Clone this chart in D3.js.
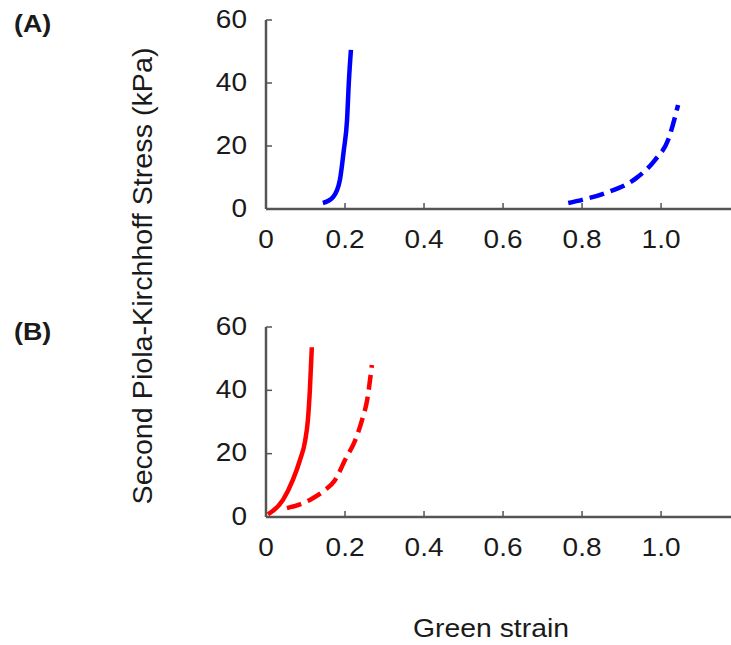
<!DOCTYPE html>
<html><head><meta charset="utf-8">
<script src="https://cdn.jsdelivr.net/npm/d3@7"></script>
<style>body{margin:0;background:#fff}svg{display:block}text{font-family:"Liberation Sans",Arial,sans-serif}</style>
</head><body><svg id="c" width="731" height="645"></svg>
<script>
// data (strain, stress kPa)
const aSolidStrain = [0.144,0.17,0.187,0.197,0.205,0.21,0.215];
const aSolidStress = [1.9,3.8,9.2,18.7,28,41,50.5];
const aDashStrain = [0.765,0.80,0.858,0.937,0.985,1.018,1.043];
const aDashStress = [1.9,2.9,5.0,9.8,15.6,22,33];
const bSolidStrain = [0.005,0.043,0.068,0.086,0.099,0.106,0.111,0.116];
const bSolidStress = [0.8,5.4,11.7,18,24,30.6,40,53.6];
const bDashStrain = [0.053,0.111,0.149,0.175,0.2,0.225,0.243,0.256,0.268];
const bDashStress = [2.8,5.4,8.5,11.7,18,24,30.6,36.9,48];
const xTicks = [0,0.2,0.4,0.6,0.8,1.0];
const xTickLabels = ["0","0.2","0.4","0.6","0.8","1.0"];
const yTicks = [0,20,40,60];

const svg = d3.select("#c");
const x = d3.scaleLinear().domain([0,1.177]).range([266,731]);
const axisColor = "#555";
const textColor = "#1a1a1a";
const SX = 1.12;

function stretchedText(g, px, py, str, opts) {
  const t = g.append("text")
    .attr("transform", `translate(${px},${py}) scale(${SX},1)`)
    .attr("font-size", opts.size || 25)
    .attr("fill", textColor)
    .attr("text-anchor", opts.anchor || "start")
    .text(str);
  if (opts.dy) t.attr("dy", opts.dy);
  if (opts.bold) t.attr("font-weight", "bold");
  return t;
}

function panel(y0, yTop, label, labelY, series) {
  const y = d3.scaleLinear().domain([0,60]).range([y0,yTop]);
  const g = svg.append("g");
  g.append("line").attr("x1",x(0)).attr("x2",731).attr("y1",y0).attr("y2",y0).attr("stroke",axisColor).attr("stroke-width",2.5);
  g.append("line").attr("x1",x(0)).attr("x2",x(0)).attr("y1",y0).attr("y2",y(60)).attr("stroke",axisColor).attr("stroke-width",2.5);
  yTicks.forEach(t=>{
    g.append("line").attr("x1",x(0)).attr("x2",x(0)+6).attr("y1",y(t)).attr("y2",y(t)).attr("stroke",axisColor).attr("stroke-width",1.5);
    stretchedText(g, 247, y(t)-1, t, {anchor:"end", dy:"0.35em"});
  });
  xTicks.forEach((t,i)=>{
    if(i>0) g.append("line").attr("x1",x(t)).attr("x2",x(t)).attr("y1",y0).attr("y2",y0-6).attr("stroke",axisColor).attr("stroke-width",1.5);
    stretchedText(g, x(t), y0+39, xTickLabels[i], {anchor:"middle"});
  });
  stretchedText(g, 14, labelY, label, {size:24, bold:true});
  const line = d3.line().x(d=>x(d[0])).y(d=>y(d[1])).curve(d3.curveMonotoneX);
  series.forEach(s=>{
    const pts = s.xs.map((v,i)=>[v,s.ys[i]]);
    g.append("path").attr("d",line(pts)).attr("fill","none").attr("stroke",s.color).attr("stroke-width",4.5)
      .attr("stroke-dasharray",s.dash?"15,7":null);
  });
}
panel(209, 20, "(A)", 32, [
  {xs:aSolidStrain, ys:aSolidStress, color:"#0000ff", dash:false},
  {xs:aDashStrain, ys:aDashStress, color:"#0000ff", dash:true}
]);
panel(517, 327, "(B)", 340, [
  {xs:bSolidStrain, ys:bSolidStress, color:"#ff0000", dash:false},
  {xs:bDashStrain, ys:bDashStress, color:"#ff0000", dash:true}
]);
svg.append("text").attr("transform","translate(152,276) rotate(-90)").attr("text-anchor","middle")
  .attr("font-size",27).attr("fill",textColor).attr("textLength",457).attr("lengthAdjust","spacingAndGlyphs")
  .text("Second Piola-Kirchhoff Stress (kPa)");
svg.append("text").attr("x",491).attr("y",637).attr("text-anchor","middle").attr("font-size",26).attr("fill",textColor)
  .attr("textLength",156).attr("lengthAdjust","spacingAndGlyphs").text("Green strain");
</script></body></html>
